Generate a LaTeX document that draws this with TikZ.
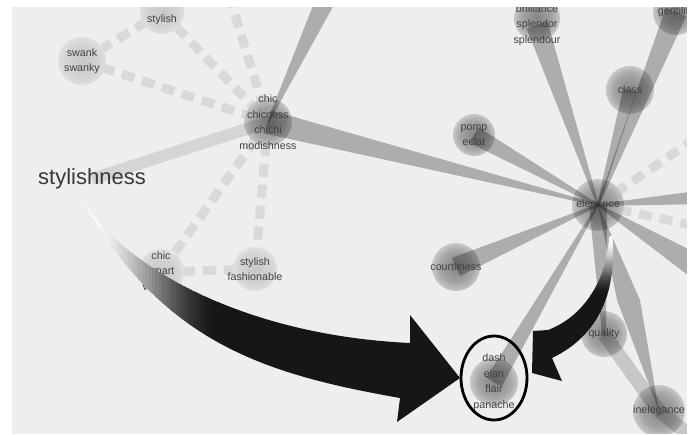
\documentclass[tikz,border=0pt]{standalone}
\usepackage{fontspec}
\setmainfont{Liberation Sans}
\usetikzlibrary{calc}
\definecolor{bg}{RGB}{238,238,238}
\definecolor{wordgray}{RGB}{66,66,66}
\definecolor{dashgray}{RGB}{217,217,217}
\definecolor{arrowblack}{RGB}{22,22,22}
\definecolor{glowdark}{RGB}{132,132,132}
\definecolor{glowmid}{RGB}{165,165,165}
\definecolor{glowlight}{RGB}{200,200,200}
\definecolor{glowlightmid}{RGB}{212,212,212}
\pgfdeclareradialshading{darkglow}{\pgfpoint{0bp}{0bp}}{color(0bp)=(glowdark); color(17bp)=(glowmid); color(34bp)=(bg); color(50bp)=(bg)}
\pgfdeclareradialshading{lightglow}{\pgfpoint{0bp}{0bp}}{color(0bp)=(glowlight); color(18bp)=(glowlightmid); color(34bp)=(bg); color(50bp)=(bg)}
\pgfdeclarelayer{dashes}
\pgfdeclarelayer{glow}
\pgfdeclarelayer{bands}
\pgfdeclarelayer{front}
\pgfsetlayers{dashes,glow,bands,main,front}
% tapered band between two named points: [style]{from}{to}{half width at from}{half width at to}
\newcommand{\band}[5][solidband]{%
  \fill[#1] ($(#2.center)!#4!90:(#3.center)$) -- ($(#2.center)!#4!-90:(#3.center)$)
    -- ($(#3.center)!#5!90:(#2.center)$) -- ($(#3.center)!#5!-90:(#2.center)$) -- cycle;}

\begin{document}
\begin{tikzpicture}[x=1pt,y=-1pt,
    word/.style={font=\fontsize{10.7}{15.5}\selectfont,text=wordgray,align=center,inner sep=0pt},
    bigword/.style={font=\fontsize{22}{26}\selectfont,text=wordgray!85!black,inner sep=0pt},
    solidband/.style={fill=black,fill opacity=0.27},
    midband/.style={fill=black,fill opacity=0.16},
    paleband/.style={fill=black,fill opacity=0.10},
    dashedge/.style={draw=dashgray,line width=9pt,dash pattern=on 13pt off 8pt},
    ring/.style={draw=black,line width=2.8pt}]
    \useasboundingbox (0,0) rectangle (695,435);

    % words
    \node[word] (brill) at (537,25) {brilliance\\splendor\\splendour};
    \node[word] (gentil) at (676,12) {gentility};
    \node[word] (class) at (630,90) {class};
    \node[word] (pomp) at (474,135) {pomp\\eclat};
    \node[word] (elegance) at (598,205) {elegance};
    \node[word] (court) at (456,267) {courtliness};
    \node[word] (quality) at (604,334) {quality};
    \node[word] (dash) at (494,382) {dash\\elan\\flair\\panache};
    \node[word] (inelegance) at (659,411) {inelegance};
    \node[word] (chic) at (268,122) {chic\\chicness\\chichi\\modishness};
    \node[word] (fashtop) at (162,12) {fashionable\\stylish};
    \node[word] (swank) at (82,61) {swank\\swanky};
    \node[word] (smart) at (161,272) {chic\\smart\\voguish};
    \node[word] (stylfash) at (255,269) {stylish\\fashionable};
    \node[bigword] (stylishness) at (92,179) {stylishness};

    % loose ends off the frame
    \coordinate (offtopA) at (229,-5);
    \coordinate (offtopB) at (328,-5);
    \coordinate (offright1) at (705,132);
    \coordinate (offright2) at (705,197);
    \coordinate (offright3) at (705,228);
    \coordinate (offright4) at (705,272);
    \coordinate (offcorner) at (705,447);
    \coordinate (kiteL) at (617,300);
    \coordinate (kiteR) at (640,300);

    \begin{pgfonlayer}{dashes}
    \fill[bg] (12,7) rectangle (687,434);
    \foreach \a/\b in {swank/fashtop, swank/chic, fashtop/chic, offtopA/chic,
        chic/smart, chic/stylfash, smart/stylfash,
        elegance/offright1, elegance/offright3}
        \draw[dashedge] (\a.center) -- (\b.center);
    \end{pgfonlayer}

    \begin{pgfonlayer}{glow}
    \foreach \n/\r in {class/24pt, pomp/21pt, elegance/26pt, court/24pt,
        quality/23pt, dash/24pt, inelegance/26pt, chic/24pt, gentil/23pt}
        \shade[shading=darkglow] (\n.center) circle (\r);
    \shade[shading=darkglow] ([yshift=7pt]brill.center) circle (23pt);
    \foreach \n/\r in {fashtop/22pt, swank/24pt, smart/23pt, stylfash/22pt}
        \shade[shading=lightglow] (\n.center) circle (\r);
    \end{pgfonlayer}

    \begin{pgfonlayer}{bands}
    \band{elegance}{brill}{1pt}{11pt}
    \band{elegance}{gentil}{1pt}{11pt}
    \band{elegance}{class}{1pt}{7pt}
    \band{elegance}{pomp}{1pt}{9pt}
    \band{elegance}{court}{1pt}{10pt}
    \band{elegance}{dash}{1pt}{9pt}
    \band{elegance}{chic}{1pt}{12pt}
    \band{elegance}{offright2}{1pt}{7pt}
    \band{elegance}{offright4}{1pt}{13pt}
    \band{quality}{elegance}{2pt}{9pt}
    \fill[solidband] (elegance.center) -- (kiteL) -- (inelegance.center) -- (kiteR) -- cycle;
    \band[midband]{quality}{inelegance}{7pt}{7pt}
    \band[midband]{inelegance}{offcorner}{7pt}{7pt}
    \band{chic}{offtopB}{1pt}{10pt}
    \band[paleband]{stylishness}{chic}{6pt}{6pt}
    \end{pgfonlayer}

    \begin{pgfonlayer}{front}
    % big arrow
    \begin{scope}
    \clip (86,205) .. controls (125,265) and (240,335) .. (410,343) -- (410,315)
        -- (460,378) -- (397,422) -- (400,398)
        .. controls (270,375) and (165,345) .. (86,206) -- cycle;
    \foreach \i in {0,...,39}{
        \pgfmathtruncatemacro\p{100*(1-3*(\i/40)^2+2*(\i/40)^3)}
        \fill[white!\p!arrowblack] (84+\i*3.4,195) rectangle ++(3.6,240);
    }
    \fill[arrowblack] (219,195) rectangle (470,430);
    \end{scope}
    % small arrow
    \begin{scope}
    \clip (612,232) .. controls (618,290) and (600,335) .. (552,358) -- (562,381)
        -- (532,373) -- (533,331) -- (548,330)
        .. controls (580,318) and (606,285) .. (609,238) -- cycle;
    \foreach \i in {0,...,29}{
        \pgfmathtruncatemacro\p{100*(1-3*(\i/30)^2+2*(\i/30)^3)}
        \fill[white!\p!arrowblack] (525,236+\i*2) rectangle ++(100,2.2);
    }
    \fill[arrowblack] (525,295) rectangle (625,390);
    \end{scope}
    \draw[ring] ([yshift=4pt]dash.center) ellipse [x radius=33pt,y radius=42pt];
    % white margin
    \fill[white,even odd rule] (-5,-5) rectangle (700,440) (12,7) rectangle (687,434);
    \end{pgfonlayer}
\end{tikzpicture}
\end{document}
